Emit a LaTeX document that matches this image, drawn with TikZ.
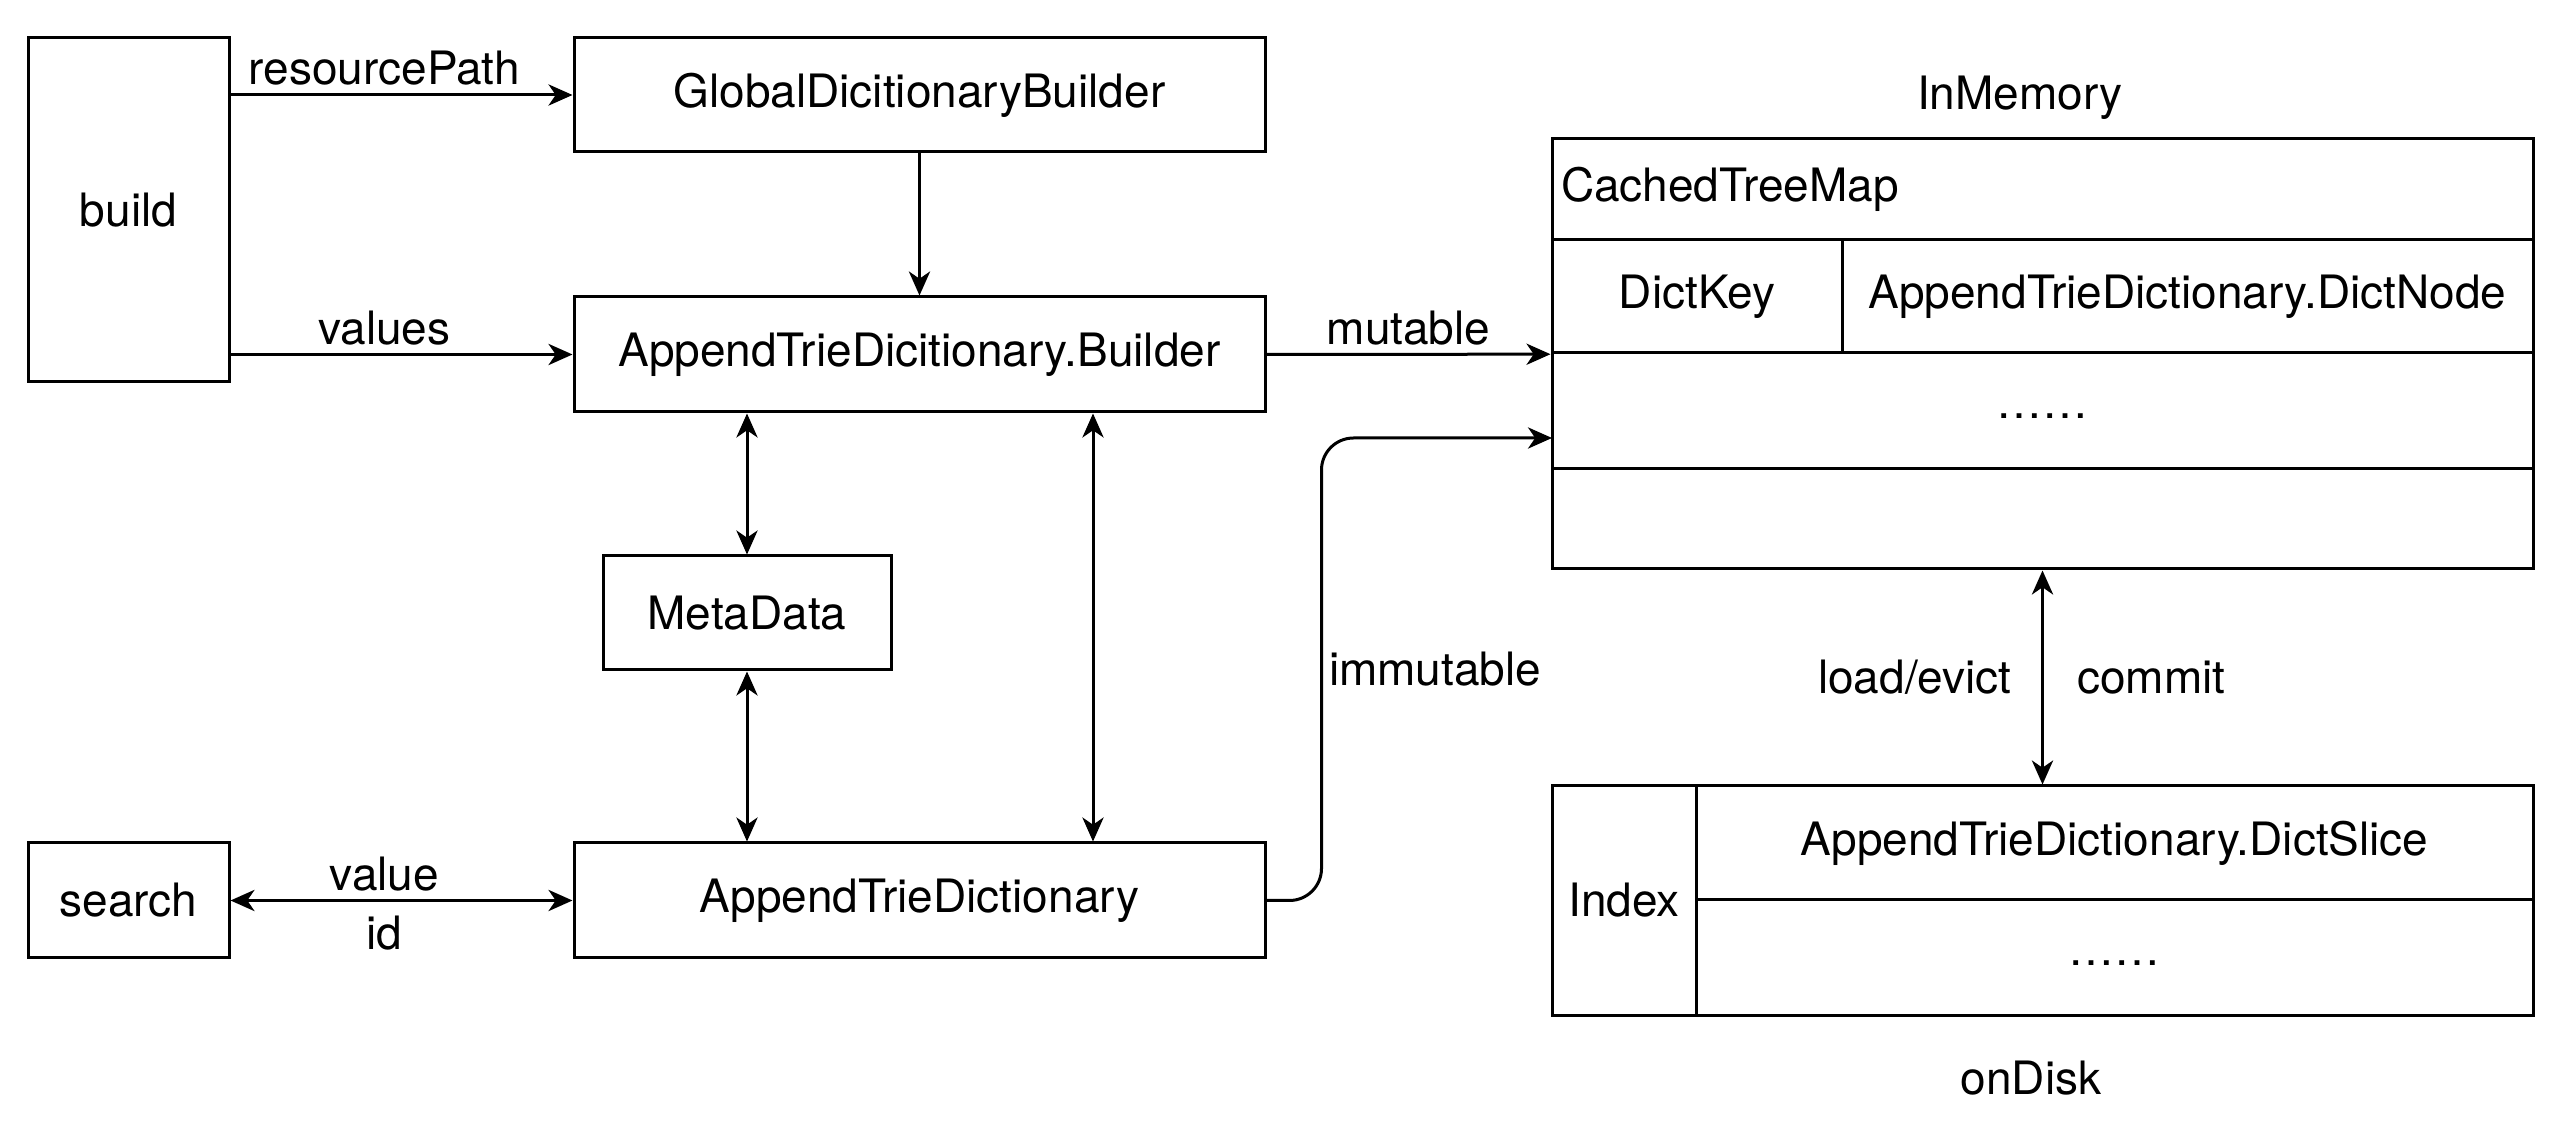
\documentclass[tikz,border=0pt]{standalone}
\usepackage{fontspec}
\setmainfont{TeX Gyre Heros}
\usetikzlibrary{arrows.meta,calc}
\tikzset{x=0.25pt, y=-0.25pt,
	every node/.style={font=\fontsize{11.5}{13.8}\selectfont},
	box/.style={draw, line width=0.75pt, inner sep=0pt, align=center},
	dotsbox/.style={box, text height=4pt, text depth=0pt},
	lbl/.style={inner sep=2pt},
	arr/.style={line width=0.75pt, -{Stealth[length=6pt,width=5.3pt,inset=1.8pt]}},
	darr/.style={line width=0.75pt, {Stealth[length=6pt,width=5.3pt,inset=1.8pt]}-{Stealth[length=6pt,width=5.3pt,inset=1.8pt]}}
}

\begin{document}
\begin{tikzpicture}
\useasboundingbox (0,0) rectangle (2562,1144);
% left part
\node[box, minimum width=50.25pt, minimum height=86pt] (build) at (128.5,210) {build};
\node[box, minimum width=172.75pt, minimum height=28.5pt] (gdb) at (919.5,95) {GlobalDicitionaryBuilder};
\node[box, minimum width=172.75pt, minimum height=28.75pt] (bld) at (919.5,354.5) {AppendTrieDicitionary.Builder};
\node[box, minimum width=72pt, minimum height=28.5pt] (meta) at (747,613) {MetaData};
\node[box, minimum width=50.25pt, minimum height=28.75pt] (search) at (128.5,900.5) {search};
\node[box, minimum width=172.75pt, minimum height=28.75pt] (atd) at (919.5,900.5) {AppendTrieDictionary};
% in memory
\node (inmem) at (2020,98) {InMemory};
\node[box, minimum width=245.25pt, minimum height=107.5pt] (mem) at (2042.5,354) {};
\node[box, minimum width=245.25pt, minimum height=25.25pt, inner xsep=2.25pt, text width=240.75pt, align=left] (ctm) at (2042.5,189.5) {CachedTreeMap};
\node[box, minimum width=72.5pt, minimum height=28.25pt] (dkey) at (1697,296.5) {DictKey};
\node[box, minimum width=172.75pt, minimum height=28.25pt] (dnode) at (2187.5,296.5) {AppendTrieDictionary.DictNode};
\node[dotsbox, minimum width=245.25pt, minimum height=29pt] (memdots) at (2042.5,411) {……};
% on disk
\node[box, minimum width=245.25pt, minimum height=57.25pt] (disk) at (2042.5,900.5) {};
\node[box, minimum width=36pt, minimum height=57.25pt] (idx) at (1624,900.5) {Index};
\node[box, minimum width=209.25pt, minimum height=28.5pt] (slice) at (2114.5,843) {AppendTrieDictionary.DictSlice};
\node[dotsbox, minimum width=209.25pt, minimum height=28.75pt] (diskdots) at (2114.5,957.5) {……};
\node (ondisk) at (2031,1078) {onDisk};
% connectors
\draw[arr] (build.east |- gdb) -- node[lbl, above, pos=0.45] {resourcePath} (gdb.west);
\draw[arr] (build.east |- bld) -- node[lbl, above, pos=0.45] {values} (bld.west);
\draw[arr] (gdb) -- (bld);
\draw[darr] (bld.south -| meta) -- (meta.north);
\draw[darr] (meta) -- (atd.north -| meta);
\draw[darr] ($(bld.south west)!0.75!(bld.south east)$) -- ($(atd.north west)!0.75!(atd.north east)$);
\draw[darr] (search) -- node[lbl, above, pos=0.45] {value} node[lbl, below, pos=0.45, yshift=-1.5pt] {id} (atd);
\draw[arr] (bld) -- node[lbl, above] {mutable} (mem);
\coordinate (memin) at (1552,438);
\draw[arr, rounded corners=8pt] (atd.east) -- ++(55,0) |- node[pos=0.25, right, inner sep=1.5pt] {immutable} (memin);
\draw[darr] (mem) -- node[left, xshift=-4pt] {load/evict} node[right, xshift=5pt] {commit} (disk);
\end{tikzpicture}
\end{document}
